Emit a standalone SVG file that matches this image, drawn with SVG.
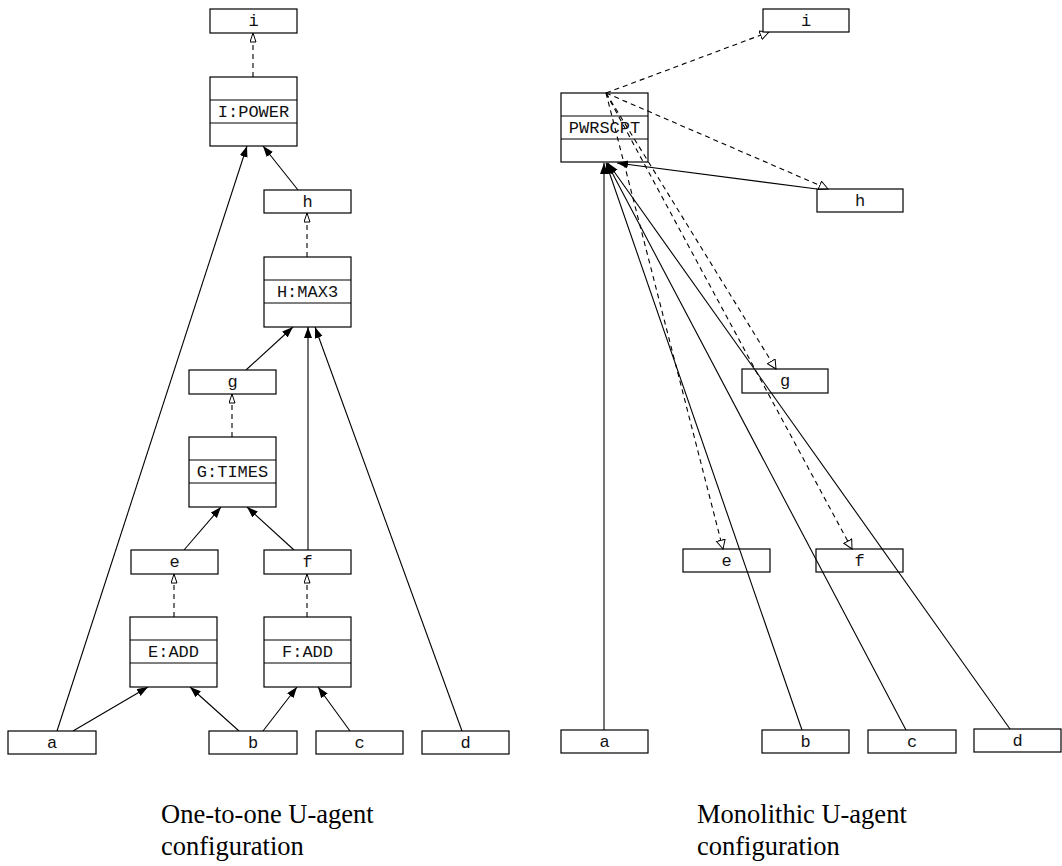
<svg xmlns="http://www.w3.org/2000/svg" width="1062" height="866" viewBox="0 0 1062 866">
  <style>
    .box { fill: #fff; stroke: #000; stroke-width: 1.2; }
    .boxn { fill: none; stroke: #000; stroke-width: 1.2; }
    .div { stroke: #000; stroke-width: 1.2; }
    .lbl { font-family: "Liberation Mono", "Courier New", monospace; font-size: 17px; text-anchor: middle; fill: #111; }
    .cap { font-family: "Liberation Serif", "Times New Roman", serif; font-size: 26.5px; fill: #000; }
    .use { fill: none; stroke: #000; stroke-width: 1.1; marker-end: url(#solid); }
    .out { fill: none; stroke: #000; stroke-width: 1.1; stroke-dasharray: 5 4; marker-end: url(#hollow); }
    .outw { fill: none; stroke: #000; stroke-width: 1.1; stroke-dasharray: 5 4; marker-end: url(#hollowWide); }
  </style>
  <defs>
    <marker id="solid" markerUnits="userSpaceOnUse" markerWidth="12" markerHeight="9" refX="11" refY="4" orient="auto">
      <path d="M0,0 L11,4 L0,8 z" fill="#000"/>
    </marker>
    <marker id="hollow" markerUnits="userSpaceOnUse" markerWidth="11" markerHeight="9" refX="9.5" refY="3.5" orient="auto">
      <path d="M0.5,0.5 L9.5,3.5 L0.5,6.5 z" fill="#fff" stroke="#000" stroke-width="1"/>
    </marker>
    <marker id="hollowWide" markerUnits="userSpaceOnUse" markerWidth="11" markerHeight="12" refX="9.5" refY="5" orient="auto">
      <path d="M0.5,0.5 L9.5,5 L0.5,9.5 z" fill="#fff" stroke="#000" stroke-width="1"/>
    </marker>
  </defs>

  <!-- one-to-one configuration: connectors -->
  <g id="edges-left">
    <line class="use" x1="57" y1="731" x2="247" y2="146"/>
    <line class="use" x1="73" y1="731" x2="148" y2="687"/>
    <line class="use" x1="239" y1="731" x2="190" y2="687"/>
    <line class="use" x1="263" y1="731" x2="297" y2="687"/>
    <line class="use" x1="350" y1="731" x2="318" y2="687"/>
    <line class="use" x1="462" y1="731" x2="315" y2="327"/>
    <line class="use" x1="184" y1="550" x2="221" y2="507"/>
    <line class="use" x1="294" y1="550" x2="247" y2="507"/>
    <line class="use" x1="308" y1="550" x2="308" y2="327"/>
    <line class="use" x1="246" y1="370" x2="293" y2="327"/>
    <line class="use" x1="298" y1="190" x2="263" y2="146"/>
    <line class="out" x1="253" y1="77" x2="253" y2="33"/>
    <line class="out" x1="307" y1="257" x2="307" y2="213"/>
    <line class="out" x1="232" y1="437" x2="232" y2="394"/>
    <line class="out" x1="174" y1="617" x2="174" y2="574"/>
    <line class="out" x1="307" y1="617" x2="307" y2="574"/>
  </g>

  <!-- one-to-one configuration: agents -->
  <g id="L-i"><rect class="box" x="210" y="9" width="87" height="24"/><text class="lbl" x="253.5" y="26">i</text></g>
  <g id="L-IPOWER"><rect class="box" x="210" y="77" width="87" height="69"/><line class="div" x1="210" y1="100" x2="297" y2="100"/><line class="div" x1="210" y1="123" x2="297" y2="123"/><text class="lbl" x="253.5" y="117">I:POWER</text></g>
  <g id="L-h"><rect class="box" x="264" y="190" width="87" height="23"/><text class="lbl" x="307.5" y="207">h</text></g>
  <g id="L-HMAX3"><rect class="box" x="264" y="257" width="87" height="70"/><line class="div" x1="264" y1="280" x2="351" y2="280"/><line class="div" x1="264" y1="303" x2="351" y2="303"/><text class="lbl" x="307.5" y="297">H:MAX3</text></g>
  <g id="L-g"><rect class="box" x="189" y="370" width="87" height="24"/><text class="lbl" x="232.5" y="387">g</text></g>
  <g id="L-GTIMES"><rect class="box" x="189" y="437" width="87" height="70"/><line class="div" x1="189" y1="460" x2="276" y2="460"/><line class="div" x1="189" y1="483" x2="276" y2="483"/><text class="lbl" x="232.5" y="477">G:TIMES</text></g>
  <g id="L-e"><rect class="box" x="131" y="550" width="87" height="24"/><text class="lbl" x="174.5" y="567">e</text></g>
  <g id="L-f"><rect class="box" x="264" y="550" width="87" height="24"/><text class="lbl" x="307.5" y="567">f</text></g>
  <g id="L-EADD"><rect class="box" x="130" y="617" width="87" height="70"/><line class="div" x1="130" y1="640" x2="217" y2="640"/><line class="div" x1="130" y1="663" x2="217" y2="663"/><text class="lbl" x="173.5" y="657">E:ADD</text></g>
  <g id="L-FADD"><rect class="box" x="264" y="617" width="87" height="70"/><line class="div" x1="264" y1="640" x2="351" y2="640"/><line class="div" x1="264" y1="663" x2="351" y2="663"/><text class="lbl" x="307.5" y="657">F:ADD</text></g>
  <g id="L-a"><rect class="box" x="8" y="731" width="88" height="23"/><text class="lbl" x="52" y="748">a</text></g>
  <g id="L-b"><rect class="box" x="209" y="731" width="88" height="23"/><text class="lbl" x="253" y="748">b</text></g>
  <g id="L-c"><rect class="box" x="316" y="731" width="87" height="23"/><text class="lbl" x="359.5" y="748">c</text></g>
  <g id="L-d"><rect class="box" x="422" y="731" width="87" height="23"/><text class="lbl" x="465.5" y="748">d</text></g>

  <!-- monolithic configuration: connectors -->
  <g id="edges-right">
    <line class="use" x1="604" y1="730" x2="604" y2="163"/>
    <line class="use" x1="802" y1="730" x2="606" y2="163"/>
    <line class="use" x1="906" y1="730" x2="607" y2="163"/>
    <line class="use" x1="1010" y1="729" x2="608" y2="163"/>
    <line class="use" x1="817" y1="189" x2="617" y2="163"/>
    <line class="outw" x1="606" y1="93" x2="769" y2="32"/>
    <line class="outw" x1="606" y1="93" x2="828" y2="189"/>
    <line class="outw" x1="606" y1="93" x2="776" y2="369"/>
    <line class="outw" x1="606" y1="93" x2="723" y2="549"/>
    <line class="outw" x1="606" y1="93" x2="852" y2="549"/>
  </g>

  <!-- monolithic configuration: agents (unfilled, connectors show through) -->
  <g id="R-i"><rect class="box" x="763" y="9" width="86" height="23"/><text class="lbl" x="806" y="26">i</text></g>
  <g id="R-PWRSCPT"><rect class="boxn" x="561" y="93" width="87" height="69"/><line class="div" x1="561" y1="116" x2="648" y2="116"/><line class="div" x1="561" y1="139" x2="648" y2="139"/><text class="lbl" x="604.5" y="133">PWRSCPT</text></g>
  <g id="R-h"><rect class="boxn" x="817" y="189" width="86" height="23"/><text class="lbl" x="860" y="206">h</text></g>
  <g id="R-g"><rect class="boxn" x="742" y="369" width="86" height="24"/><text class="lbl" x="785" y="386">g</text></g>
  <g id="R-e"><rect class="boxn" x="683" y="549" width="87" height="23"/><text class="lbl" x="726.5" y="566">e</text></g>
  <g id="R-f"><rect class="boxn" x="816" y="549" width="87" height="23"/><text class="lbl" x="859.5" y="566">f</text></g>
  <g id="R-a"><rect class="box" x="561" y="730" width="87" height="23"/><text class="lbl" x="604.5" y="747">a</text></g>
  <g id="R-b"><rect class="box" x="762" y="730" width="87" height="23"/><text class="lbl" x="805.5" y="747">b</text></g>
  <g id="R-c"><rect class="box" x="868" y="730" width="88" height="23"/><text class="lbl" x="912" y="747">c</text></g>
  <g id="R-d"><rect class="box" x="974" y="729" width="87" height="23"/><text class="lbl" x="1017.5" y="746">d</text></g>

  <!-- captions -->
  <text class="cap" x="161" y="823">One-to-one U-agent</text>
  <text class="cap" x="161" y="855">configuration</text>
  <text class="cap" x="697" y="823">Monolithic U-agent</text>
  <text class="cap" x="697" y="855">configuration</text>
</svg>
